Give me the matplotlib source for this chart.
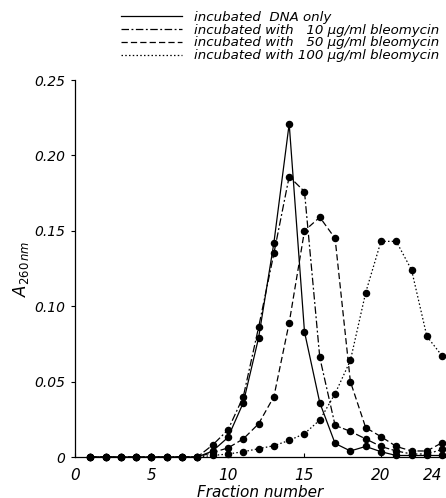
import numpy as np
import matplotlib.pyplot as plt

# fraction numbers and A260 readings for each incubation
fractions = np.arange(1, 25)

dna_only = [0, 0, 0, 0, 0, 0, 0, 0,
            0.004, 0.013, 0.036, 0.079, 0.142, 0.221, 0.083, 0.036,
            0.009, 0.004, 0.007, 0.0035, 0.001, 0.001, 0.001, 0.001]
bleo_10 = [0, 0, 0, 0, 0, 0, 0, 0,
           0.008, 0.018, 0.040, 0.086, 0.135, 0.186, 0.176, 0.066,
           0.021, 0.017, 0.012, 0.007, 0.004, 0.002, 0.002, 0.005]
bleo_50 = [0, 0, 0, 0, 0, 0, 0, 0,
           0.003, 0.006, 0.012, 0.022, 0.040, 0.089, 0.150, 0.159,
           0.145, 0.050, 0.0195, 0.0135, 0.007, 0.004, 0.004, 0.0095]
bleo_100 = [0, 0, 0, 0, 0, 0, 0, 0,
            0.001, 0.002, 0.0035, 0.0055, 0.0075, 0.011, 0.0155, 0.0245,
            0.042, 0.064, 0.109, 0.143, 0.143, 0.124, 0.080, 0.067]

labels = ['incubated  DNA only',
          'incubated with   10 µg/ml bleomycin',
          'incubated with   50 µg/ml bleomycin',
          'incubated with 100 µg/ml bleomycin']

xticks = [0, 5, 10, 15, 20, 24]
yticks = [0, 0.05, 0.10, 0.15, 0.20, 0.25]
ytick_labels = ['0', '0.05', '0.10', '0.15', '0.20', '0.25']

fig = plt.figure(figsize=(4.46, 4.98), dpi=100)
ax = fig.add_axes([75/446, 41/498, 371/446, 377/498])

styles = [dict(linestyle='-'),
          dict(linestyle=(0, (6, 2, 1.5, 2))),
          dict(linestyle=(0, (5, 2.5))),
          dict(linestyle=(0, (1.2, 1.8)))]

handles = []
for ys, st in zip([dna_only, bleo_10, bleo_50, bleo_100], styles):
    ax.plot(fractions, ys, color='black', lw=0.9, marker='o', ms=4.4,
            mfc='black', mec='black', clip_on=False, **st)
    h, = ax.plot([], [], color='black', lw=0.9, **st)
    handles.append(h)

ax.set_xlim(0, 24.25)
ax.set_ylim(0, 0.25)
ax.spines['top'].set_visible(False)
ax.spines['right'].set_visible(False)
ax.spines['left'].set_linewidth(0.9)
ax.spines['bottom'].set_linewidth(0.9)

ax.set_xticks(xticks)
ax.set_xticklabels([str(t) for t in xticks], fontsize=11, style='italic')
ax.get_xticklabels()[-1].set_ha('right')
ax.set_yticks(yticks)
ax.set_yticklabels(ytick_labels, fontsize=10, style='italic')
ax.tick_params(axis='x', direction='in', length=3, width=0.8, pad=8)
ax.tick_params(axis='y', direction='out', length=3, width=0.8, pad=4)

ax.set_xlabel('Fraction number', fontsize=11, style='italic', labelpad=1)
ax.set_ylabel('A$_{260\\,nm}$', fontsize=12, style='italic', labelpad=2)

fig.legend(handles, labels, loc='upper left', bbox_to_anchor=(121/446, 1 - 11/498),
           frameon=False, prop={'style': 'italic', 'size': 9.6},
           handlelength=4.6, handletextpad=0.85, labelspacing=-0.02,
           borderpad=0, borderaxespad=0)

fig.savefig('out.png', dpi=100)
